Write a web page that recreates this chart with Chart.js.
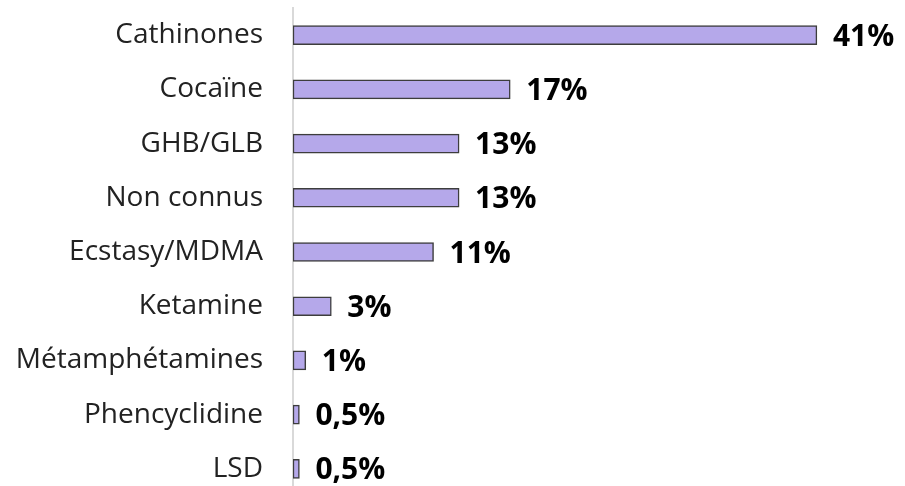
<!DOCTYPE html>
<html>
<head>
<meta charset="utf-8">
<script src="https://cdn.jsdelivr.net/npm/chart.js@4"></script>
<style>
  html, body { margin: 0; padding: 0; background: #fff; overflow: hidden; }
  #wrap { width: 905px; height: 486px; overflow: hidden; position: relative; }
  #box { width: 905px; height: 496px; position: absolute; left: 0; top: 0; }
</style>
</head>
<body>
<div id="wrap"><div id="box"><canvas id="c"></canvas></div></div>
<script>
const categories = ["Cathinones", "Cocaïne", "GHB/GLB", "Non connus", "Ecstasy/MDMA", "Ketamine", "Métamphétamines", "Phencyclidine", "LSD"];
const values = [41, 17, 13, 13, 11, 3, 1, 0.5, 0.5];
const valueLabels = ["41%", "17%", "13%", "13%", "11%", "3%", "1%", "0,5%", "0,5%"];

const labelPlugin = {
  id: 'valueLabels',
  afterDatasetsDraw(chart) {
    const ctx = chart.ctx;
    const meta = chart.getDatasetMeta(0);
    ctx.save();
    ctx.font = 'bold 30px "Open Sans"';
    ctx.fillStyle = '#000';
    ctx.textAlign = 'left';
    ctx.textBaseline = 'middle';
    meta.data.forEach((bar, i) => {
      ctx.fillText(valueLabels[i], bar.x + 16, bar.y + 2);
    });
    ctx.restore();
  }
};

new Chart(document.getElementById('c'), {
  type: 'bar',
  data: {
    labels: categories,
    datasets: [{
      data: values,
      backgroundColor: '#B5A8EA',
      borderColor: '#3d3d3d',
      borderWidth: 1.5,
      borderSkipped: false,
      barThickness: 19
    }]
  },
  options: {
    indexAxis: 'y',
    responsive: true,
    maintainAspectRatio: false,
    animation: false,
    layout: { padding: { top: 8, bottom: 0, left: 0, right: 37 } },
    plugins: { legend: { display: false }, tooltip: { enabled: false } },
    scales: {
      x: { display: false, min: 0, max: 45 },
      y: {
        grid: { display: false, drawTicks: false },
        border: { display: true, color: '#d9d9d9', width: 2 },
        ticks: {
          color: '#222',
          padding: 30,
          font: { family: '"Open Sans"', size: 28 }
        },
        afterFit(scale) {
          scale.width = 293;
          scale.paddingTop = 0;
          scale.paddingBottom = 0;
        }
      }
    }
  },
  plugins: [labelPlugin]
});
</script>
</body>
</html>
